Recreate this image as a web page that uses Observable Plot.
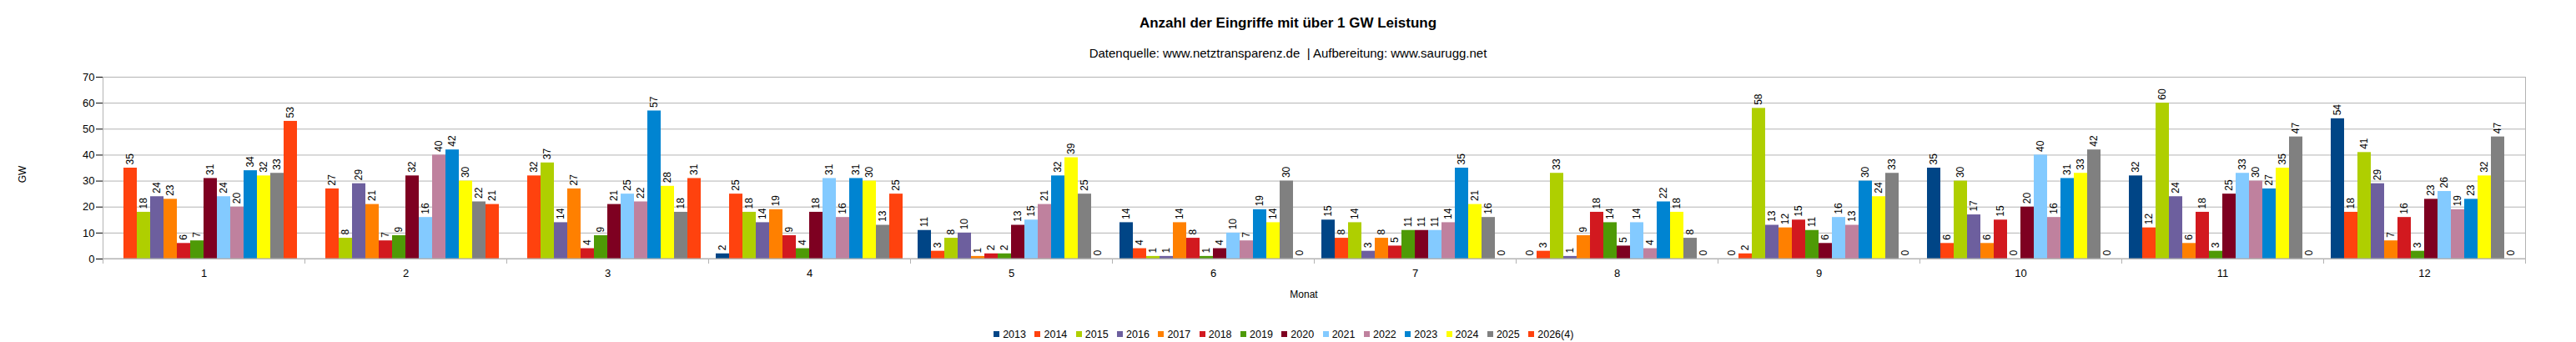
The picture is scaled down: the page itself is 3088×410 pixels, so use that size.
<!DOCTYPE html>
<html>
<head>
<meta charset="utf-8">
<script src="https://cdn.jsdelivr.net/npm/d3@7"></script>
<script src="https://cdn.jsdelivr.net/npm/@observablehq/plot@0.6"></script>
<style>
  body { margin: 0; background: #fff; font-family: "Liberation Sans", Arial, sans-serif; color: #000; }
  #wrap { position: relative; width: 3088px; height: 410px; overflow: hidden; background: #fff; }
  #head { position: relative; height: 80px; }
  #title { position: absolute; left: 0; width: 3088px; text-align: center; top: 19px; font-weight: bold; font-size: 17px; line-height: 17px; white-space: pre; }
  #sub { position: absolute; left: 0; width: 3088px; text-align: center; top: 56px; font-size: 15px; line-height: 15px; white-space: pre; }
  #chart { height: 290px; }
  #chart svg { display: block; }
  #legend { height: 40px; box-sizing: border-box; padding-top: 21px; display: flex; justify-content: center; font-size: 12.5px; line-height: 14px; }
  .li { display: inline-flex; align-items: center; margin-right: 10.5px; }
  .sw { width: 7px; height: 7px; margin-right: 4px; }
  .ylab { position: absolute; left: 27px; top: 209px; transform: translate(-50%, -50%) rotate(-90deg); font-size: 12px; white-space: nowrap; }
  .xlab { position: absolute; left: 1563px; top: 353px; transform: translate(-50%, -50%); font-size: 12px; white-space: nowrap; }
  g[aria-label="y-axis tick"] { stroke: #b3b3b3; }
</style>
</head>
<body>
<div id="wrap">
  <div id="head">
    <div id="title">Anzahl der Eingriffe mit über 1 GW Leistung</div>
    <div id="sub">Datenquelle: www.netztransparenz.de  | Aufbereitung: www.saurugg.net</div>
  </div>
  <div id="chart"></div>
  <div id="legend"></div>
  <div class="ylab">GW</div>
  <div class="xlab">Monat</div>
</div>
<script>
// ---- data ----
const months = [1, 2, 3, 4, 5, 6, 7, 8, 9, 10, 11, 12];
const years = ["2013", "2014", "2015", "2016", "2017", "2018", "2019", "2020", "2021", "2022", "2023", "2024", "2025", "2026(4)"];
const colors = ["#004586", "#ff420e", "#afcf00", "#6d5f9e", "#ff8000", "#d2191f", "#4e9a06", "#7e0021", "#83caff", "#bf819e", "#0084d1", "#ffff00", "#808080", "#ff420e"];
const yTicks = [0, 10, 20, 30, 40, 50, 60, 70];

const v2013 = [null, null, null, 2, 11, 14, 15, 0, 0, 35, 32, 54];
const v2014 = [35, 27, 32, 25, 3, 4, 8, 3, 2, 6, 12, 18];
const v2015 = [18, 8, 37, 18, 8, 1, 14, 33, 58, 30, 60, 41];
const v2016 = [24, 29, 14, 14, 10, 1, 3, 1, 13, 17, 24, 29];
const v2017 = [23, 21, 27, 19, 1, 14, 8, 9, 12, 6, 6, 7];
const v2018 = [6, 7, 4, 9, 2, 8, 5, 18, 15, 15, 18, 16];
const v2019 = [7, 9, 9, 4, 2, 1, 11, 14, 11, 0, 3, 3];
const v2020 = [31, 32, 21, 18, 13, 4, 11, 5, 6, 20, 25, 23];
const v2021 = [24, 16, 25, 31, 15, 10, 11, 14, 16, 40, 33, 26];
const v2022 = [20, 40, 22, 16, 21, 7, 14, 4, 13, 16, 30, 19];
const v2023 = [34, 42, 57, 31, 32, 19, 35, 22, 30, 31, 27, 23];
const v2024 = [32, 30, 28, 30, 39, 14, 21, 18, 24, 33, 35, 32];
const v2025 = [33, 22, 18, 13, 25, 30, 16, 8, 33, 42, 47, 47];
const v2026 = [53, 21, 31, 25, 0, 0, 0, 0, 0, 0, 0, 0];

const series = [v2013, v2014, v2015, v2016, v2017, v2018, v2019, v2020, v2021, v2022, v2023, v2024, v2025, v2026];

const data = [];
months.forEach((m, i) => {
  years.forEach((y, j) => {
    const v = series[j][i];
    if (v != null) data.push({month: m, year: y, value: v});
  });
});

const chart = Plot.plot({
  width: 3088,
  height: 290,
  marginTop: 12,
  marginBottom: 60,
  marginLeft: 123,
  marginRight: 61,
  style: {fontFamily: "'Liberation Sans', Arial, sans-serif", fontSize: "13px", color: "#000", background: "#fff"},
  fx: {domain: months, padding: 0, label: null},
  x: {domain: years, paddingInner: 0, paddingOuter: 0.5, axis: null},
  y: {domain: [0, 70], label: null},
  color: {domain: years, range: colors},
  marks: [
    Plot.gridY(yTicks, {stroke: "#b3b3b3", strokeOpacity: 1}),
    Plot.axisY(yTicks, {tickSize: 8, tickPadding: 2, label: null, fontSize: 13}),
    Plot.axisFx({anchor: "bottom", tickSize: 0, tickPadding: 12, label: null, fontSize: 13}),
    Plot.barY(data, {fx: "month", x: "year", y: "value", fill: "year"}),
    Plot.text(data, {
      fx: "month", x: "year", y: "value",
      text: d => String(d.value),
      rotate: -90, textAnchor: "start", lineAnchor: "middle",
      dy: -4, fontSize: 12, fill: "#000"
    })
  ]
});

document.getElementById("chart").appendChild(chart);

// axis lines and month boundary ticks derived from the plot's own scales
const fxs = chart.scale("fx");
const ys = chart.scale("y");
const y0 = ys.apply(0);
const yTop = ys.apply(70);
const edges = months.map(m => fxs.apply(m));
const rightEdge = fxs.apply(months[months.length - 1]) + fxs.bandwidth;
edges.push(rightEdge);
const svg = d3.select(chart);
const g = svg.append("g").attr("stroke", "#b3b3b3").attr("stroke-width", 1);
g.selectAll("line.tk").data(edges).join("line")
  .attr("x1", d => Math.round(d) + 0.5).attr("x2", d => Math.round(d) + 0.5)
  .attr("y1", y0).attr("y2", y0 + 6);
g.selectAll("line.ed").data([edges[0], rightEdge]).join("line")
  .attr("x1", d => Math.round(d) + 0.5).attr("x2", d => Math.round(d) + 0.5)
  .attr("y1", yTop).attr("y2", y0 + 6);
g.append("line").attr("x1", edges[0]).attr("x2", rightEdge).attr("y1", y0).attr("y2", y0);

// legend
const legend = d3.select("#legend");
years.forEach((y, i) => {
  const item = legend.append("span").attr("class", "li");
  item.append("span").attr("class", "sw").style("background", colors[i]);
  item.append("span").text(y);
});
</script>
</body>
</html>
